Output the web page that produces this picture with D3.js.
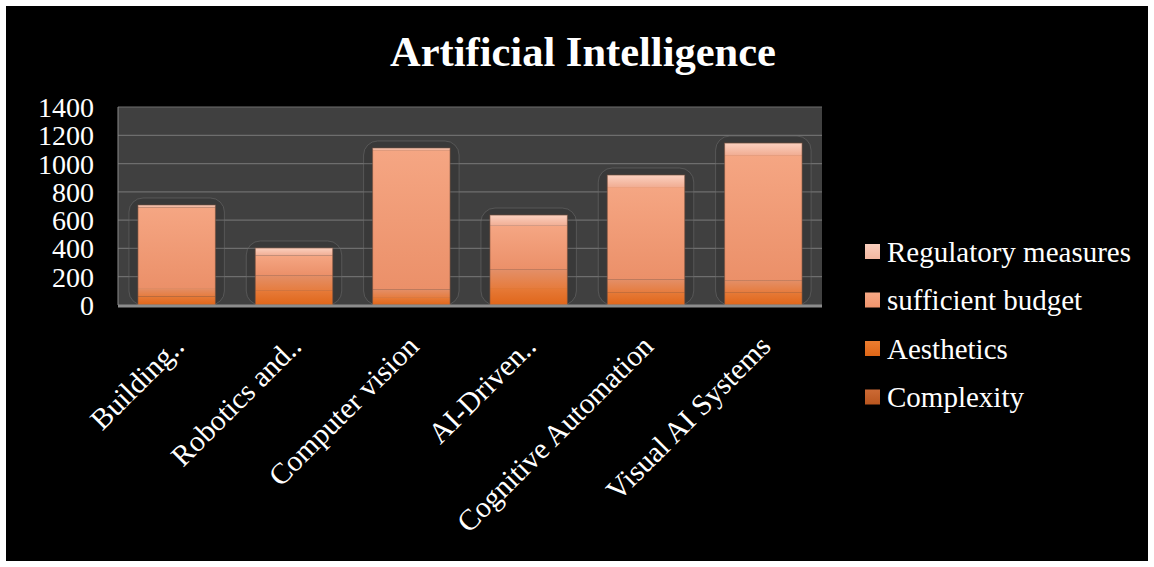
<!DOCTYPE html>
<html>
<head>
<meta charset="utf-8">
<script src="https://cdn.jsdelivr.net/npm/d3@7"></script>
<style>
  html, body { margin: 0; padding: 0; background: #ffffff; }
  svg { display: block; }
</style>
</head>
<body>
<div id="chart"></div>
<script>
// data
var categories = ["Building..", "Robotics and..", "Computer vision", "AI-Driven..", "Cognitive Automation", "Visual AI Systems"];
var seriesNames = ["Complexity", "Aesthetics", "sufficient budget", "Regulatory measures"];
var complexity = [60, 100, 50, 120, 90, 90];
var aesthetics = [60, 110, 60, 130, 90, 85];
var budget = [570, 140, 985, 310, 654, 885];
var regulatory = [17, 53, 15, 76, 85, 85];
var yTicks = [0, 200, 400, 600, 800, 1000, 1200, 1400];

// bar fills (top colour, bottom colour) and legend swatch colours
var barColors = {
    "Complexity": ["#e67a38", "#e0661a"],
    "Aesthetics": ["#e38f68", "#e67c3e"],
    "sufficient budget": ["#f5a683", "#eb9069"],
    "Regulatory measures": ["#fbd1c0", "#f1ad93"]
};
var swatchColors = {
    "Complexity": ["#cc6a35", "#b9561f"],
    "Aesthetics": ["#ec7d30", "#df6617"],
    "sufficient budget": ["#f6a885", "#f0946c"],
    "Regulatory measures": ["#f9cfbe", "#f3b7a0"]
};

var width = 1154, height = 567;
var plot = {left: 118, right: 822, top: 107, bottom: 305};
var serif = "'Liberation Serif', 'Times New Roman', serif";

var svg = d3.select("#chart").append("svg")
    .attr("width", width)
    .attr("height", height);

// page frame
svg.append("rect")
    .attr("x", 6).attr("y", 6)
    .attr("width", width - 12).attr("height", height - 12)
    .attr("fill", "#000000");

// gradients
var defs = svg.append("defs");
function addGradient(id, stops){
    var g = defs.append("linearGradient")
        .attr("id", id)
        .attr("x1", 0).attr("y1", 0).attr("x2", 0).attr("y2", 1);
    g.append("stop").attr("offset", "0%").attr("stop-color", stops[0]);
    g.append("stop").attr("offset", "100%").attr("stop-color", stops[1]);
}
seriesNames.forEach(function(name, i){
    addGradient("bar" + i, barColors[name]);
    addGradient("sw" + i, swatchColors[name]);
});

// scales
var x = d3.scaleBand()
    .domain(categories)
    .range([plot.left, plot.right])
    .paddingInner(0.34)
    .paddingOuter(0.17);

var y = d3.scaleLinear()
    .domain([0, 1400])
    .range([plot.bottom, plot.top]);

// plot background
svg.append("rect")
    .attr("x", plot.left).attr("y", plot.top)
    .attr("width", plot.right - plot.left).attr("height", plot.bottom - plot.top)
    .attr("fill", "#404040");

// gridlines
svg.append("g")
    .selectAll("line")
    .data(yTicks.slice(1))
    .enter().append("line")
    .attr("x1", plot.left).attr("x2", plot.right)
    .attr("y1", function(d){ return y(d); })
    .attr("y2", function(d){ return y(d); })
    .attr("stroke", "#6e6e6e")
    .attr("stroke-width", 1.2);

// stacked data
var table = categories.map(function(c, i){
    return {
        category: c,
        "Complexity": complexity[i],
        "Aesthetics": aesthetics[i],
        "sufficient budget": budget[i],
        "Regulatory measures": regulatory[i]
    };
});
var stacked = d3.stack().keys(seriesNames)(table);
var totals = table.map(function(d){
    return d3.sum(seriesNames, function(k){ return d[k]; });
});

// glow outline behind each bar
svg.append("g")
    .selectAll("rect")
    .data(table)
    .enter().append("rect")
    .attr("x", function(d){ return x(d.category) - 9; })
    .attr("y", function(d, i){ return y(totals[i]) - 7; })
    .attr("width", x.bandwidth() + 18)
    .attr("height", function(d, i){ return plot.bottom - y(totals[i]) + 7; })
    .attr("rx", 14)
    .attr("fill", "rgba(0,0,0,0.1)")
    .attr("stroke", "rgba(110,110,110,0.55)")
    .attr("stroke-width", 1);

// bars
var layers = svg.append("g")
    .selectAll("g")
    .data(stacked)
    .enter().append("g")
    .attr("fill", function(d, i){ return "url(#bar" + i + ")"; });

layers.selectAll("rect")
    .data(function(d){ return d; })
    .enter().append("rect")
    .attr("x", function(d){ return x(d.data.category); })
    .attr("y", function(d){ return y(d[1]); })
    .attr("width", x.bandwidth())
    .attr("height", function(d){ return y(d[0]) - y(d[1]); });

// thin bar edge
svg.append("g")
    .selectAll("rect")
    .data(table)
    .enter().append("rect")
    .attr("x", function(d){ return x(d.category); })
    .attr("y", function(d, i){ return y(totals[i]); })
    .attr("width", x.bandwidth())
    .attr("height", function(d, i){ return plot.bottom - y(totals[i]); })
    .attr("fill", "none")
    .attr("stroke", "rgba(120,80,60,0.6)")
    .attr("stroke-width", 1);

// axis lines
svg.append("line")
    .attr("x1", plot.left).attr("x2", plot.left)
    .attr("y1", plot.top).attr("y2", plot.bottom)
    .attr("stroke", "#8a8a8a").attr("stroke-width", 1);
svg.append("line")
    .attr("x1", plot.left).attr("x2", plot.right)
    .attr("y1", plot.bottom + 1).attr("y2", plot.bottom + 1)
    .attr("stroke", "#8c8c8c").attr("stroke-width", 3);

// y axis labels
var yAxis = svg.append("g")
    .attr("transform", "translate(" + (plot.left - 24) + ",0)")
    .call(d3.axisLeft(y).tickValues(yTicks).tickFormat(d3.format("d")).tickSize(0).tickPadding(0));
yAxis.select(".domain").remove();
yAxis.selectAll("text")
    .attr("fill", "#ffffff")
    .attr("font-family", serif)
    .attr("font-size", 28)
    .attr("dy", "0.34em");

// x axis labels, rotated
var xAxis = svg.append("g")
    .attr("transform", "translate(0," + plot.bottom + ")")
    .call(d3.axisBottom(x).tickSize(0).tickPadding(0));
xAxis.select(".domain").remove();
xAxis.selectAll("text")
    .attr("fill", "#ffffff")
    .attr("font-family", serif)
    .attr("font-size", 29.5)
    .attr("text-anchor", "end")
    .attr("y", 0)
    .attr("dy", 0)
    .attr("transform", "translate(9,43) rotate(-45)");

// title
svg.append("text")
    .attr("x", 583).attr("y", 66)
    .attr("text-anchor", "middle")
    .attr("fill", "#ffffff")
    .attr("font-family", serif)
    .attr("font-weight", "bold")
    .attr("font-size", 42.5)
    .text("Artificial Intelligence");

// legend, top of stack first
var legendItems = seriesNames.slice().reverse();
var legend = svg.append("g")
    .selectAll("g")
    .data(legendItems)
    .enter().append("g")
    .attr("transform", function(d, i){ return "translate(865," + (252 + i * 48.5) + ")"; });

legend.append("rect")
    .attr("x", 0).attr("y", -8)
    .attr("width", 15).attr("height", 15)
    .attr("fill", function(d){ return "url(#sw" + seriesNames.indexOf(d) + ")"; });

legend.append("text")
    .attr("x", 22).attr("y", 0)
    .attr("dy", "0.34em")
    .attr("fill", "#ffffff")
    .attr("font-family", serif)
    .attr("font-size", 29)
    .text(function(d){ return d; });
</script>
</body>
</html>
